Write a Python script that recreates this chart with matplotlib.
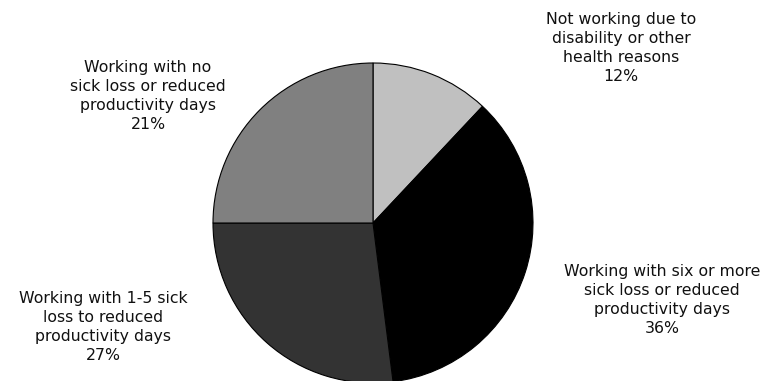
import matplotlib
matplotlib.use("Agg")
import matplotlib.pyplot as plt

categories = [
    "Not working due to\ndisability or other\nhealth reasons",
    "Working with six or more\nsick loss or reduced\nproductivity days",
    "Working with 1-5 sick\nloss to reduced\nproductivity days",
    "Working with no\nsick loss or reduced\nproductivity days",
]
values = [12, 36, 27, 25]
pct_labels = ["12%", "36%", "27%", "21%"]
colors = ["#c0c0c0", "#000000", "#333333", "#808080"]

W, H = 773, 381
fig = plt.figure(figsize=(W / 100, H / 100), dpi=100)
fig.patch.set_facecolor("white")

cx, cy, r = 373, 223, 160
ax = fig.add_axes([(cx - r) / W, (H - cy - r) / H, 2 * r / W, 2 * r / H])
ax.pie(values, colors=colors, startangle=90, counterclock=False, radius=1,
       wedgeprops=dict(edgecolor="black", linewidth=0.8))
ax.set_xlim(-1, 1)
ax.set_ylim(-1, 1)
ax.set_aspect("equal")
ax.axis("off")

label_pos = [(621, 48), (662, 300), (103, 327), (148, 96)]
for (x, y), cat, p in zip(label_pos, categories, pct_labels):
    fig.text(x / W, 1 - y / H, cat + "\n" + p, ha="center", va="center",
             fontsize=11.3, family="DejaVu Sans", linespacing=1.33, color="#111111")

fig.savefig("out.png", dpi=100)
